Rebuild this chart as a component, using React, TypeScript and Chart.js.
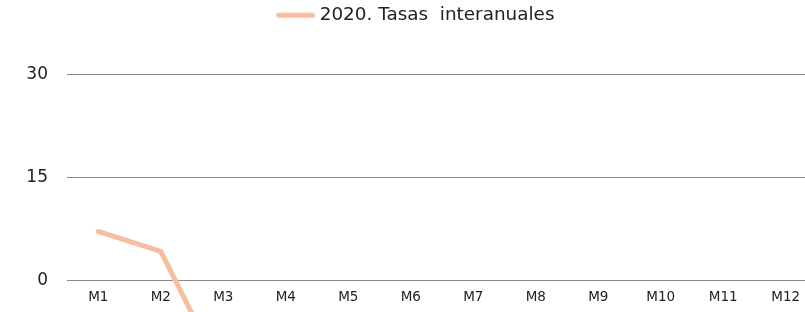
import React, { useEffect, useRef } from "react";
import { Chart, registerables } from "chart.js";

Chart.register(...registerables);

const categories = ["M1", "M2", "M3", "M4", "M5", "M6", "M7", "M8", "M9", "M10", "M11", "M12"];
const seriesLabel = "2020. Tasas  interanuales";
const values: (number | null)[] = [7.1, 4.2, -14, null, null, null, null, null, null, null, null, null];
const yTicks = [0, 15, 30];

const LINE_COLOR = "#F6BEA0";
const TEXT_COLOR = "#222222";
const FONT = "'DejaVu Sans', Verdana, sans-serif";

function makeLegendLine(): HTMLCanvasElement {
  const c = document.createElement("canvas");
  c.width = 56;
  c.height = 10;
  const ctx = c.getContext("2d")!;
  ctx.strokeStyle = LINE_COLOR;
  ctx.lineWidth = 5;
  ctx.lineCap = "round";
  ctx.beginPath();
  ctx.moveTo(12, 5);
  ctx.lineTo(46, 5);
  ctx.stroke();
  return c;
}

export default function App() {
  const ref = useRef<HTMLCanvasElement | null>(null);
  useEffect(() => {
    if (!ref.current) return;
    const legendLine = makeLegendLine();
    const chart = new Chart(ref.current, {
      type: "line",
      data: {
        labels: categories,
        datasets: [
          {
            label: seriesLabel,
            data: values,
            borderColor: LINE_COLOR,
            backgroundColor: LINE_COLOR,
            borderWidth: 5,
            borderCapStyle: "round",
            borderJoinStyle: "round",
            pointRadius: 0,
            pointHoverRadius: 0,
            tension: 0,
            spanGaps: false,
          },
        ],
      },
      options: {
        animation: false,
        responsive: false,
        maintainAspectRatio: false,
        layout: { padding: { top: 0, left: 16, right: 0, bottom: 0 } },
        plugins: {
          tooltip: { enabled: false },
          legend: {
            display: true,
            position: "top",
            labels: {
              usePointStyle: true,
              pointStyle: legendLine as any,
              pointStyleWidth: 32,
              color: TEXT_COLOR,
              font: { family: FONT, size: 18.4 },
              padding: 6,
            },
          },
        },
        scales: {
          x: {
            type: "category",
            position: { y: 0 } as any,
            offset: true,
            grid: { display: false, drawTicks: false },
            border: { display: false },
            afterFit: (scale: any) => {
              scale.height = 0;
            },
            ticks: {
              color: TEXT_COLOR,
              font: { family: FONT, size: 13.5 },
              padding: 9,
              maxRotation: 0,
              autoSkip: false,
            },
          },
          y: {
            type: "linear",
            min: -4.66,
            max: 35.88,
            afterBuildTicks: (scale: any) => {
              scale.ticks = yTicks.map((v) => ({ value: v }));
            },
            afterFit: (scale: any) => {
              scale.width = 51;
              scale.paddingTop = 0;
              scale.paddingBottom = 0;
            },
            grid: { color: "#8a8a8a", lineWidth: 1, drawTicks: false },
            border: { display: false },
            ticks: {
              color: TEXT_COLOR,
              font: { family: FONT, size: 17 },
              padding: 19,
            },
          },
        },
      },
    });
    return () => chart.destroy();
  }, []);
  return (
    <div style={{ position: "absolute", left: 0, top: 0, width: 805, height: 312, overflow: "hidden" }}>
      <canvas ref={ref} width={817} height={312} style={{ display: "block" }} />
    </div>
  );
}
